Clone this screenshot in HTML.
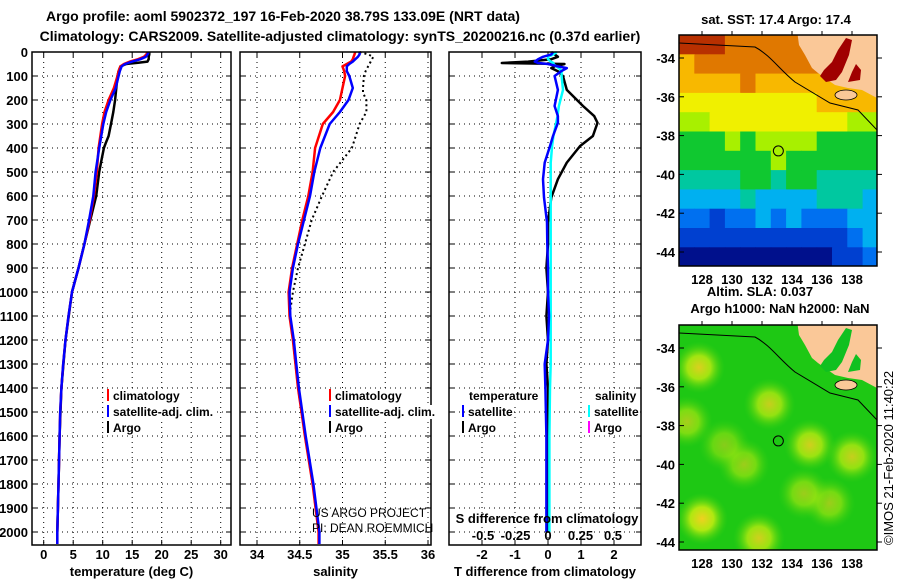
<!DOCTYPE html>
<html><head><meta charset="utf-8">
<style>
html,body{margin:0;padding:0;background:#fff;}
svg{display:block;font-family:"Liberation Sans",sans-serif;}
.t{font-weight:bold;font-size:13px;fill:#000;}
.lg{font-weight:bold;font-size:12px;fill:#000;}
</style></head>
<body>
<svg id="s" width="900" height="580" viewBox="0 0 900 580" xmlns="http://www.w3.org/2000/svg">
<text x="283" y="21" text-anchor="middle" class="t" style="font-size:14px">Argo profile: aoml 5902372_197 16-Feb-2020 38.79S 133.09E (NRT data)</text>
<text x="340" y="41" text-anchor="middle" class="t" style="font-size:14px">Climatology: CARS2009. Satellite-adjusted climatology: synTS_20200216.nc (0.37d earlier)</text>
<g id="plots"></g>
<g id="maps"></g>
<text transform="translate(893,545) rotate(-90)" style="font-size:13px">©IMOS 21-Feb-2020 11:40:22</text>
</svg>
<script>
// ---- profile data ----
const depthClim = [0,10,20,30,40,50,60,80,100,150,200,250,300,400,500,600,700,800,900,1000,1100,1200,1300,1400,1500,1600,1800,2000,2050];
const tempClim = [17.6,17.4,17.0,16.0,14.6,13.6,13.0,12.7,12.5,11.9,11.0,10.3,9.9,9.3,9.0,8.5,7.8,6.9,5.9,4.8,4.2,3.7,3.3,3.0,2.8,2.7,2.5,2.3,2.3];
const tempSat = [17.8,17.6,17.3,16.4,15.0,13.8,13.2,12.9,12.7,12.2,11.3,10.6,10.1,9.4,8.8,8.4,7.7,6.9,5.9,4.8,4.2,3.7,3.3,3.0,2.8,2.7,2.5,2.3,2.3];
const depthArgo = [0,10,20,30,40,45,50,60,80,100,150,200,250,300,350,380,400,450,500,600,700,800,900,1000,1200,1400,1600,1800,2000];
const tempArgo = [17.9,17.9,17.8,17.8,17.6,16.0,14.0,13.0,12.7,12.5,12.3,12.1,11.8,11.4,11.0,10.5,10.2,9.8,9.4,8.9,7.9,6.9,5.9,4.8,3.7,3.0,2.7,2.5,2.3];
const salClim = [35.15,35.14,35.13,35.12,35.1,35.05,35.0,35.02,35.03,35.0,34.97,34.89,34.77,34.68,34.65,34.6,34.53,34.47,34.41,34.37,34.38,34.42,34.45,34.48,34.52,34.56,34.65,34.72,34.72];
const salSat = [35.2,35.2,35.18,35.15,35.12,35.08,35.05,35.05,35.08,35.12,35.07,34.97,34.85,34.74,34.67,34.62,34.55,34.48,34.42,34.38,34.39,34.43,34.46,34.49,34.53,34.57,34.66,34.73,34.73];
const salArgo = [35.2,35.3,35.36,35.33,35.3,35.27,35.25,35.24,35.24,35.28,35.28,35.2,35.11,34.89,34.76,34.64,34.56,34.48,34.42,34.38,34.42,34.48,34.56,34.65,34.72];
const depthArgoS = [0,10,20,40,60,80,100,150,170,200,250,300,400,500,600,700,800,900,1000,1100,1200,1400,1600,1800,2000];
const depthDiff = [0,10,20,30,40,46,50,60,67,80,100,158,225,267,295,350,392,461,530,606,710,800,900,1000,1100,1200,1300,1400,1600,1800,2000];
const dTArgo = [0.1,0.2,0.3,0.1,-0.6,-1.4,0.5,0.2,0.1,0.3,0.45,0.57,1.06,1.4,1.5,1.36,0.97,0.57,0.3,0.1,0.0,0.0,-0.05,0.0,-0.05,0.0,-0.05,0.0,0.0,0.0,0.0];
const dTSat = [0.15,0.1,-0.15,-0.3,-0.4,-0.3,0.0,0.3,0.57,0.4,0.2,0.3,0.2,0.3,0.3,0.15,0.06,-0.1,-0.15,-0.12,-0.03,-0.02,0.0,0.0,0.03,0.0,-0.1,-0.08,-0.05,-0.05,-0.05];
const dSSat = [0.065,0.04,0.0,0.0,0.02,0.04,0.04,0.06,0.08,0.1,0.1,0.11,0.08,0.07,0.06,0.04,0.03,0.02,0.02,0.02,0.02,0.02,0.02,0.02,0.02,0.02,0.02,0.015,0.01,0.01,0.01];
const depthTicks = [0,100,200,300,400,500,600,700,800,900,1000,1100,1200,1300,1400,1500,1600,1700,1800,1900,2000];
const tempTicks = [0,5,10,15,20,25,30];
const salTicks = [34,34.5,35,35.5,36];
const dTTicks = [-2,-1,0,1,2];
const dSTicks = [-0.5,-0.25,0,0.25,0.5];
const dSTickLabels = ["-0.5","-0.25","0","0.25","0.5"];

const NS='http://www.w3.org/2000/svg';
function mk(tag,attrs,parent,txt){const e=document.createElementNS(NS,tag);for(const k in attrs)e.setAttribute(k,attrs[k]);if(txt!==undefined)e.textContent=txt;parent.appendChild(e);return e;}
const yD = d => 52 + d*0.24;
const PT={l:32,r:231,x:v=>43.7+v*5.9};
const PS={l:240,r:431,x:v=>257+(v-34)*85.5};
const PD={l:449,r:641,x:v=>548+v*33};
const xS = v => 548+v*136;
const TOPY=52,BOTY=545;
const G=document.getElementById('plots');

function panel(P,xt,xlab,name,xlabTicks){
  const g=mk('g',{},G);
  
  
  mk('rect',{x:P.l,y:TOPY,width:P.r-P.l,height:BOTY-TOPY,fill:'#fff',stroke:'none'},g);
  depthTicks.forEach(d=>{mk('line',{x1:P.l,x2:P.r,y1:yD(d),y2:yD(d),stroke:'#000','stroke-dasharray':'1,4','stroke-width':1},g);
    mk('line',{x1:P.l,x2:P.l+5,y1:yD(d),y2:yD(d),stroke:'#000'},g);mk('line',{x1:P.r-5,x2:P.r,y1:yD(d),y2:yD(d),stroke:'#000'},g);});
  xt.forEach((v,i)=>{const x=P.x(v);
    mk('line',{x1:x,x2:x,y1:TOPY,y2:BOTY,stroke:'#000','stroke-dasharray':'1,4'},g);
    mk('line',{x1:x,x2:x,y1:TOPY,y2:TOPY+5,stroke:'#000'},g);mk('line',{x1:x,x2:x,y1:BOTY-5,y2:BOTY,stroke:'#000'},g);
    const tl=mk('text',{x:x,y:559,'text-anchor':'middle',class:'t'},g,xlabTicks?xlabTicks[i]:String(v));
    
    
  });
  const xl=mk('text',{x:(P.l+P.r)/2,y:576,'text-anchor':'middle',class:'t'},g,xlab);
  
  
  return g;
}
function line(g,xf,vals,deps,color,w,name,dash){
  let d='';vals.forEach((v,i)=>{d+=(i?'L':'M')+xf(v).toFixed(1)+','+yD(deps[i]).toFixed(1);});
  const p=mk('path',{d:d,fill:'none',stroke:color,'stroke-width':w,'stroke-linejoin':'round'},g);
  if(dash)p.setAttribute('stroke-dasharray',dash);
  
  
}
const g1=panel(PT,tempTicks,'temperature (deg C)','temperature-panel');
line(g1,PT.x,tempArgo,depthArgo,'#000',2.5,'argo-temp-line');
line(g1,PT.x,tempClim,depthClim,'#f00',2.5,'clim-temp-line');
line(g1,PT.x,tempSat,depthClim,'#00f',2.5,'sat-temp-line');
const g2=panel(PS,salTicks,'salinity','salinity-panel');
line(g2,PS.x,salArgo,depthArgoS,'#000',2,'argo-sal-line','2,3');
line(g2,PS.x,salClim,depthClim,'#f00',2.5,'clim-sal-line');
line(g2,PS.x,salSat,depthClim,'#00f',2.5,'sat-sal-line');
const g3=panel(PD,dTTicks,'T difference from climatology','difference-panel');
line(g3,PD.x,dTArgo,depthDiff,'#000',2.5,'argo-tdiff-line');
line(g3,xS,dSSat,depthDiff,'#0ff',2.5,'sat-sdiff-line');
line(g3,PD.x,dTSat,depthDiff,'#00f',2.5,'sat-tdiff-line');
[PT,PS,PD].forEach(P=>mk('rect',{x:P.l,y:TOPY,width:P.r-P.l,height:BOTY-TOPY,fill:'none',stroke:'#000','stroke-width':1.5},G));
depthTicks.forEach(d=>{const t=mk('text',{x:28,y:yD(d)+5,'text-anchor':'end',class:'t'},G,String(d));
  
  });
const sdt=mk('text',{x:547,y:523,'text-anchor':'middle',class:'t'},G,'S difference from climatology');


dSTicks.forEach((v,i)=>{const t=mk('text',{x:548+v*130,y:540,'text-anchor':'middle',class:'t'},G,dSTickLabels[i]);
  
  });
const c1=mk('text',{x:312,y:517,style:'font-size:12px'},G,'US ARGO PROJECT');

const c2=mk('text',{x:312,y:532,style:'font-size:12px'},G,'PI: DEAN ROEMMICH');

function leg(x,y,color,label){const g=mk('g',{},G);
  
  
  if(color)mk('line',{x1:x,x2:x,y1:y-11,y2:y+1,stroke:color,'stroke-width':2},g);
  const t=mk('text',{x:x+5,y:y,class:'lg'},g,label);
  const bb=t.getBBox();mk('rect',{x:bb.x-1,y:bb.y,width:bb.width+2,height:bb.height,fill:'#fff'},g);g.appendChild(t);}
leg(108,400,'#f00','climatology');leg(108,416,'#00f','satellite-adj. clim.');leg(108,432,'#000','Argo');
leg(330,400,'#f00','climatology');leg(330,416,'#00f','satellite-adj. clim.');leg(330,432,'#000','Argo');
leg(464,400,null,'temperature');leg(463,416,'#00f','satellite');leg(463,432,'#000','Argo');
leg(590,400,null,'salinity');leg(589,416,'#0ff','satellite');leg(589,432,'#f0f','Argo');

// ---- maps ----
const sstRows = [
 [10,10,10,9,9,9,9,9,9,9,9,9,9],
 [8,9,9,9,9,9,9,9,9,9,9,9,9],
 [8,8,8,8,9,8,8,8,8,8,8,8,8],
 [7,7,7,7,7,7,7,7,7,8,8,8,8],
 [6,6,7,7,7,7,7,7,7,7,7,6,6],
 [5,5,5,6,5,6,6,6,6,5,5,5,5],
 [5,5,5,5,5,5,6,5,5,5,5,5,5],
 [4,4,4,4,5,5,4,5,5,4,4,4,4],
 [3,3,3,3,4,3,3,3,3,4,4,4,3],
 [2,2,1,2,2,3,2,3,2,2,2,3,3],
 [1,1,1,1,1,1,1,1,1,1,1,2,3],
 [0,0,0,0,0,0,0,0,0,0,1,1,2]
];
const sstColors=['#00108c','#0040d0','#0070f0','#00b0f0','#00c8a0','#10c830','#a8f000','#f0f000','#f8b800','#e07800','#b83000'];
const latTicks=[-34,-36,-38,-40,-42,-44];
const lonTicks=[128,130,132,134,136,138];
const argoLon=133.09, argoLat=-38.79;
const sstVal='17.4', argoSst='17.4', slaVal='0.037';
const M=document.getElementById('maps');
function map(mt,mb,lat34,name){
  const g=mk('g',{},M);
  
  
  const L=679,R=877,ppd=19.4;
  const yLat=la=>lat34+(-34-la)*ppd, xLon=lo=>702+(lo-128)*15;
  const cp='clip'+name;const cl=mk('clipPath',{id:cp},g);mk('rect',{x:L,y:mt,width:R-L,height:mb-mt},cl);
  const inner=mk('g',{'clip-path':'url(#'+cp+')'},g);
  return {g,inner,L,R,mt,mb,yLat,xLon};
}
function axes(m){
  const g=m.g;
  mk('rect',{x:m.L,y:m.mt,width:m.R-m.L,height:m.mb-m.mt,fill:'none',stroke:'#000','stroke-width':1.5},g);
  latTicks.forEach(la=>{const y=m.yLat(la);mk('line',{x1:m.L,x2:m.L+5,y1:y,y2:y,stroke:'#000'},g);mk('line',{x1:m.R,x2:m.R+5,y1:y,y2:y,stroke:'#000'},g);
    const t=mk('text',{x:675,y:y+5,'text-anchor':'end',class:'t'},g,String(la));
    });
  lonTicks.forEach(lo=>{const x=m.xLon(lo);mk('line',{x1:x,x2:x,y1:m.mt-4,y2:m.mt,stroke:'#000'},g);
    const t=mk('text',{x:x,y:m.mb+18,'text-anchor':'middle',class:'t'},g,String(lo));
    });
  const c=mk('circle',{cx:m.xLon(argoLon),cy:m.yLat(argoLat),r:5,fill:'none',stroke:'#000','stroke-width':1},g);
  
}
function land(m,sh,gulfFill){
  const i=m.inner;
  mk('path',{d:`M679,${43+sh} L755,${47+sh} C770,${55+sh} 780,${70+sh} 795,${82+sh} L830,${103+sh} L858,${110+sh} L877,${130+sh}`,fill:'none',stroke:'#000','stroke-width':1},i);
  mk('path',{d:`M793,${sh} L877,${sh} L877,${98+sh} L862,${90+sh} L848,${88+sh} L835,${85+sh} L825,${78+sh} L818,${73+sh} L812,${68+sh} L805,${55+sh} L799,${45+sh} Z`,fill:'#fac898',stroke:'none'},i);
  mk('path',{d:`M820,${76+sh} L824,${70+sh} L832,${62+sh} L838,${50+sh} L846,${38+sh} L852,${40+sh} L849,${55+sh} L842,${72+sh} L836,${80+sh} L826,${82+sh} Z`,fill:gulfFill,stroke:'none'},i);
  mk('path',{d:`M848,${82+sh} L852,${72+sh} L856,${64+sh} L861,${70+sh} L860,${80+sh} Z`,fill:gulfFill,stroke:'none'},i);
  mk('ellipse',{cx:846,cy:95+sh,rx:11,ry:5,fill:'#fac898',stroke:'#000','stroke-width':0.8},i);
}
const m1=map(35,266,58,'sst-map');
sstRows.forEach((row,r)=>row.forEach((v,c)=>{const rc=mk('rect',{x:679+c*15.3,y:35+r*19.3,width:15.8,height:19.8,fill:sstColors[v]},m1.inner);
  }));
land(m1,0,'#a00000');
axes(m1);
const h1=mk('text',{x:776,y:24,'text-anchor':'middle',class:'t'},M,'sat. SST: '+sstVal+' Argo: '+argoSst);

const h2=mk('text',{x:760,y:296,'text-anchor':'middle',class:'t'},M,'Altim. SLA: '+slaVal);

const h3=mk('text',{x:780,y:313,'text-anchor':'middle',class:'t'},M,'Argo h1000: NaN h2000: NaN');

const slaBlobLon=[127.8,128.0,132.5,131.8,135.2,138.0,130.8,127.0,136.5,134.8,129.5];
const slaBlobLat=[-35.0,-42.8,-36.9,-43.8,-39.0,-39.6,-40.0,-37.8,-42.0,-41.5,-39.0];
const slaBlobLevel=[0.9,1.0,0.8,0.85,0.85,0.8,0.6,0.65,0.6,0.6,0.5];
const m2=map(325,550,348,'sla-map');
mk('rect',{x:679,y:325,width:198,height:225,fill:'#1ec814'},m2.inner);
const defs=mk('defs',{},M);
const rg=mk('radialGradient',{id:'blob'},defs);
mk('stop',{offset:'0','stop-color':'#f0d020','stop-opacity':'1'},rg);
mk('stop',{offset:'0.45','stop-color':'#c0ec10','stop-opacity':'0.9'},rg);
mk('stop',{offset:'1','stop-color':'#40d010','stop-opacity':'0'},rg);
slaBlobLon.forEach((lo,i)=>{const b=mk('circle',{cx:m2.xLon(lo),cy:m2.yLat(slaBlobLat[i]),r:26,fill:'url(#blob)',opacity:slaBlobLevel[i]},m2.inner);
  });
land(m2,290,'#10c020');
axes(m2);
</script>
</body></html>
